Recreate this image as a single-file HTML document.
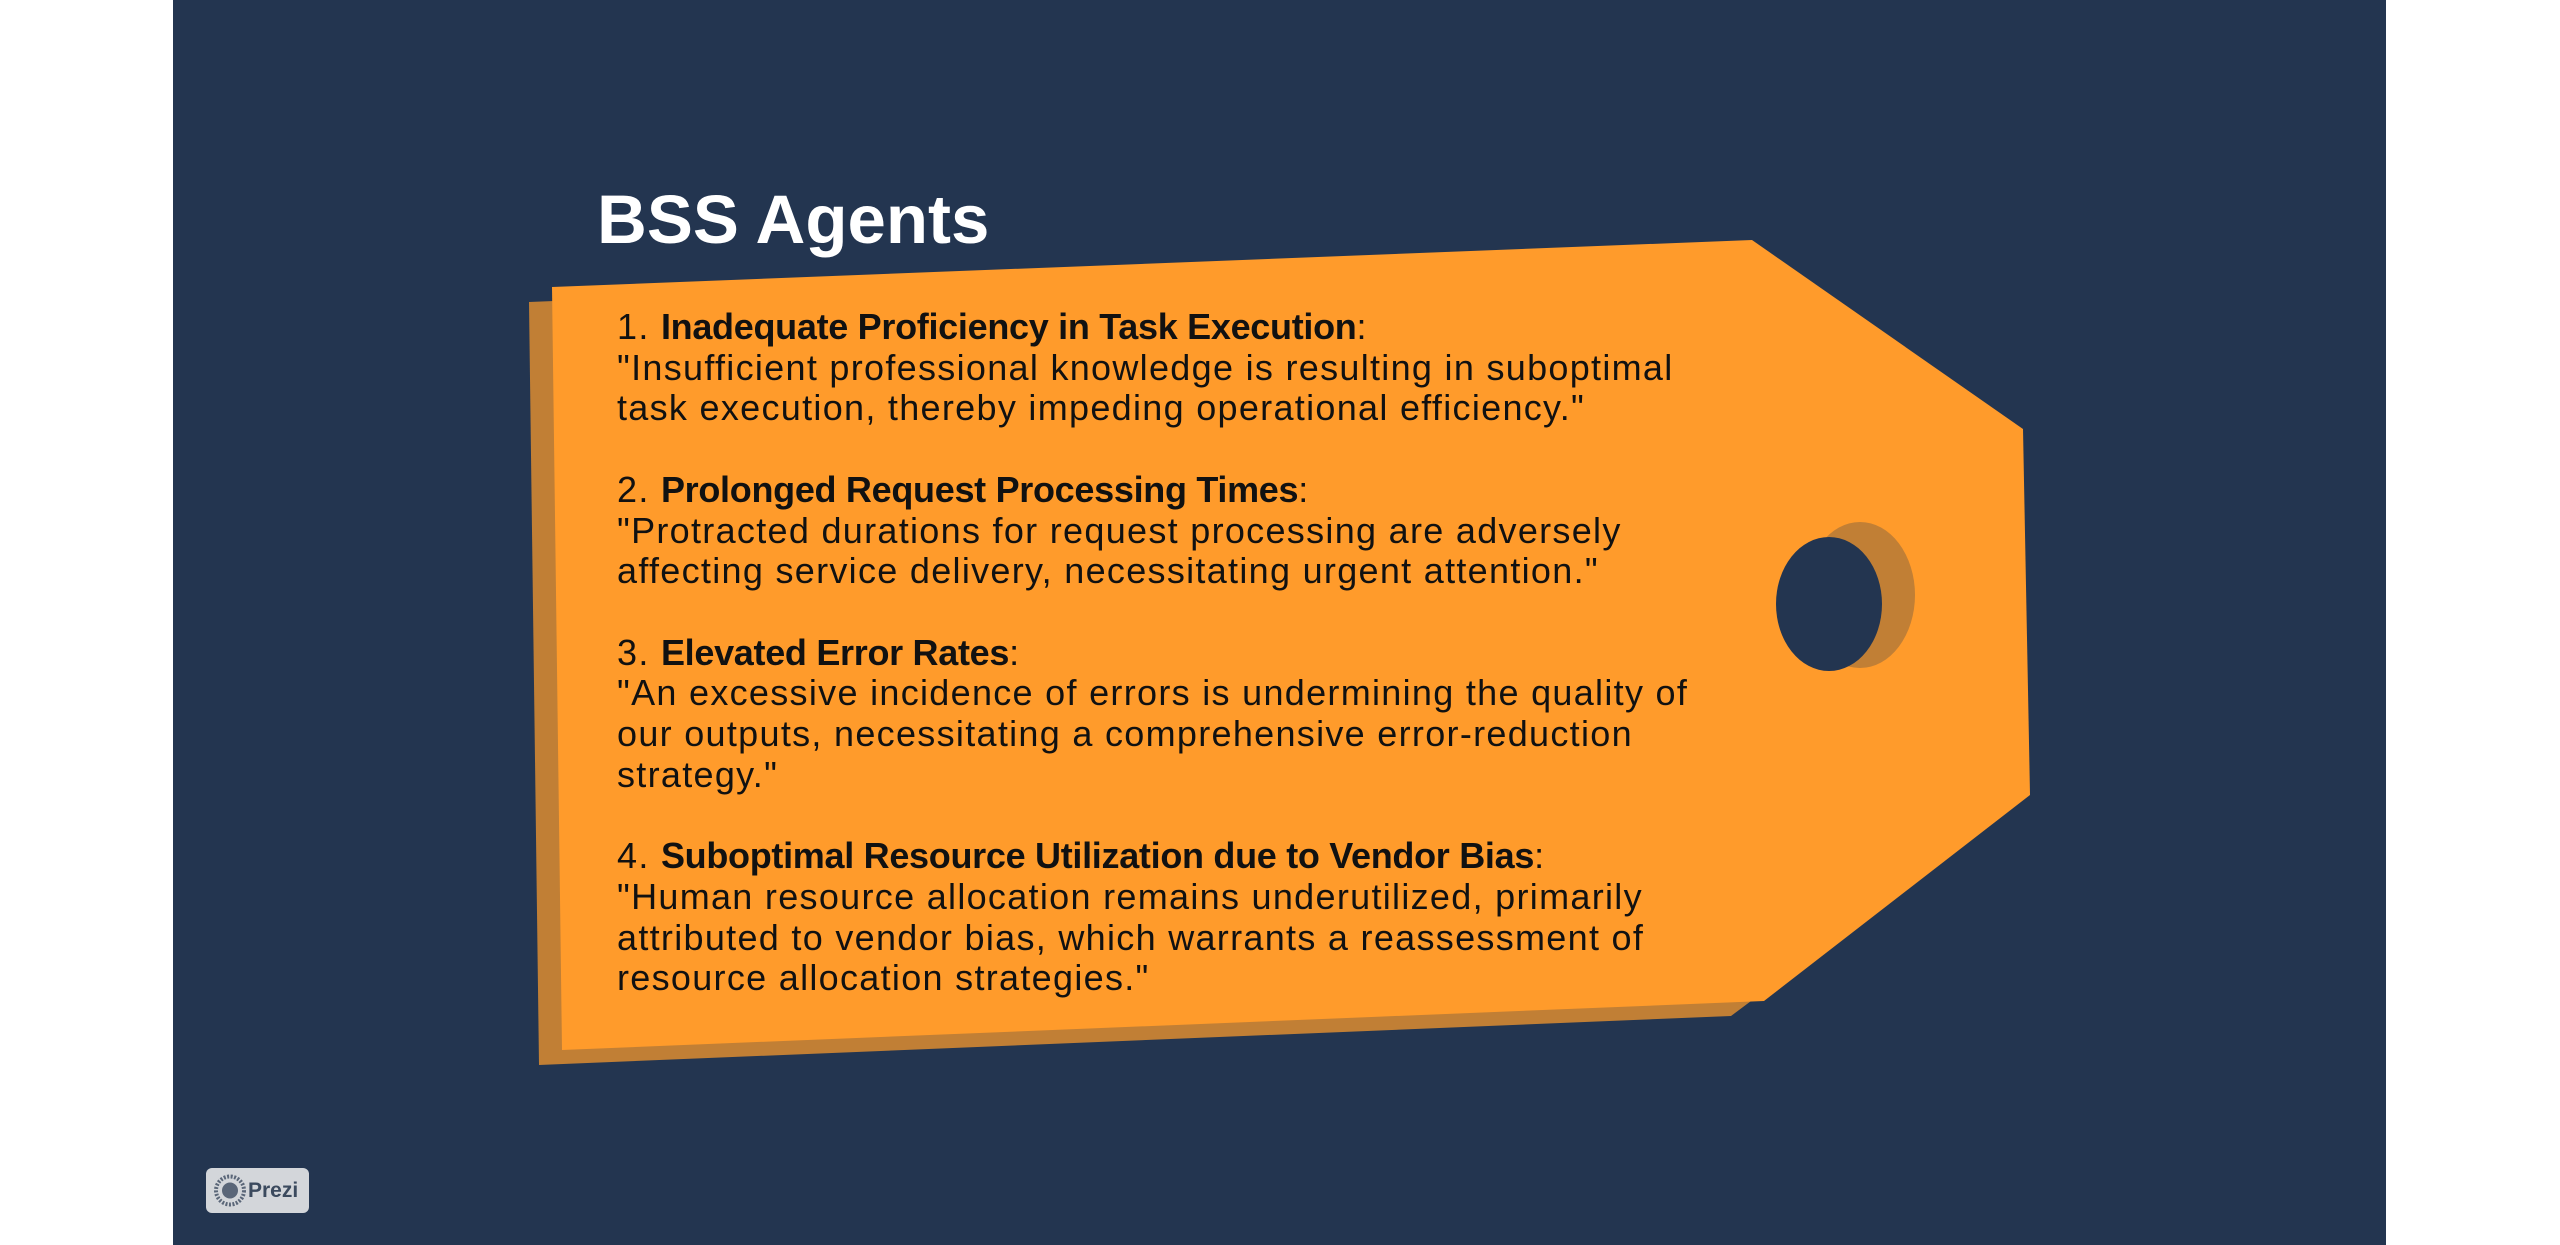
<!DOCTYPE html>
<html><head><meta charset="utf-8"><style>
html,body{margin:0;padding:0;width:2560px;height:1245px;overflow:hidden;background:#fff;font-family:"Liberation Sans",sans-serif}
#panel{position:absolute;left:173px;top:0;width:2213px;height:1245px;background:#233550}
svg{position:absolute;left:0;top:0}
#title{position:absolute;left:597px;top:180px;font-size:69px;font-weight:bold;color:#fff}
#body{position:absolute;left:617px;top:307px;font-size:36px;line-height:40.7px;color:#111;white-space:pre;letter-spacing:1.3px}
#body b{font-weight:bold;letter-spacing:-0.3px}
#prezi{position:absolute;left:206px;top:1168px;width:103px;height:45px;background:#d3d6da;border-radius:6px}
#prezi span{position:absolute;left:42px;top:11px;font-size:21px;font-weight:bold;color:#3b4a5e}
</style></head><body>
<div id="panel"></div>
<svg width="2560" height="1245">
<polygon fill="#C17F35" points="529,302 1729,255 2000,444 2007,810 1731,1016 539,1065"/>
<polygon fill="#FF9B2B" points="552,287 1752,240 2023,429 2030,795 1764,1001 562,1050"/>
<ellipse cx="1860" cy="595" rx="55" ry="73" fill="#C17F35"/>
<ellipse cx="1829" cy="604" rx="53" ry="67" fill="#233550"/>
</svg>
<div id="title">BSS Agents</div>
<div id="body">1. <b>Inadequate Proficiency in Task Execution</b>:
"Insufficient professional knowledge is resulting in suboptimal
task execution, thereby impeding operational efficiency."

2. <b>Prolonged Request Processing Times</b>:
"Protracted durations for request processing are adversely
affecting service delivery, necessitating urgent attention."

3. <b>Elevated Error Rates</b>:
"An excessive incidence of errors is undermining the quality of
our outputs, necessitating a comprehensive error-reduction
strategy."

4. <b>Suboptimal Resource Utilization due to Vendor Bias</b>:
"Human resource allocation remains underutilized, primarily
attributed to vendor bias, which warrants a reassessment of
resource allocation strategies."</div>
<div id="prezi">
<svg width="40" height="45" style="left:4px;top:0"><circle cx="20" cy="22.5" r="14" fill="none" stroke="#5a6678" stroke-width="4" stroke-dasharray="2 1.5"/><circle cx="20" cy="22.5" r="8" fill="#5a6678"/></svg>
<span>Prezi</span></div>
</body></html>
